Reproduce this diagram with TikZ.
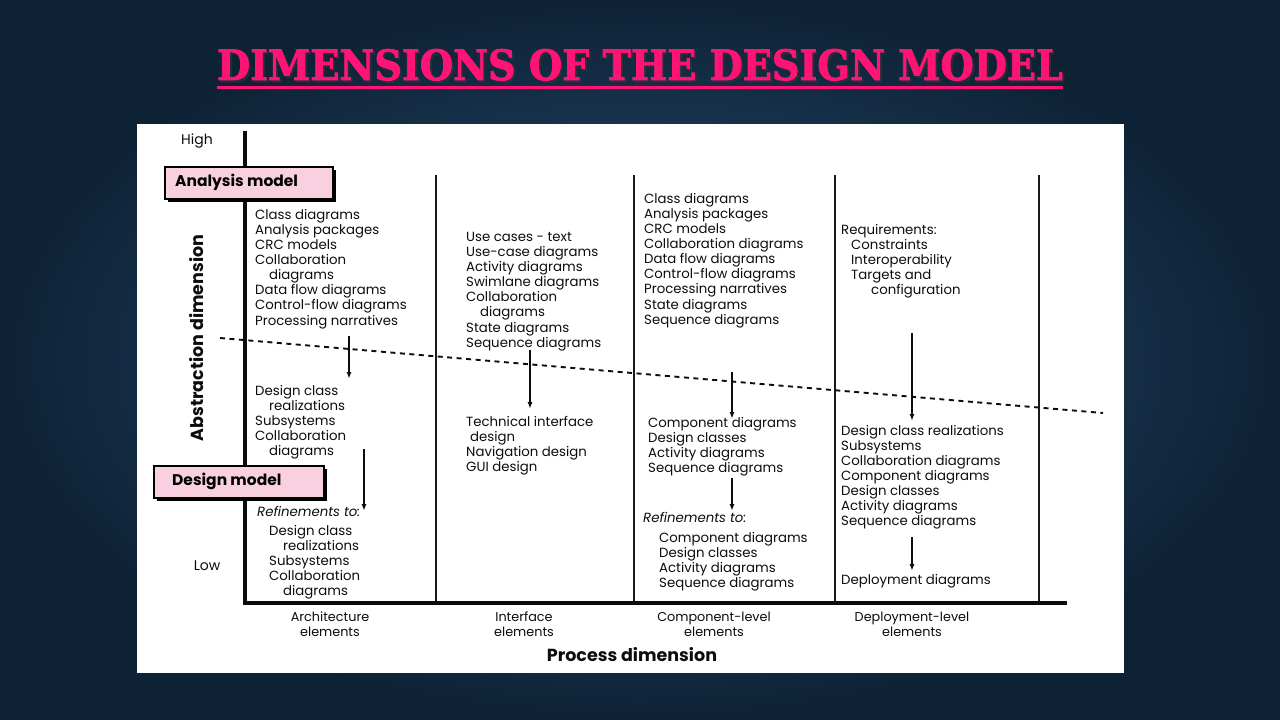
\documentclass[tikz,border=0pt]{standalone}
\usepackage{fontspec}
\setmainfont{Poppins}
\newfontfamily\titlefont{DejaVu Serif}[FakeBold=2]
\usetikzlibrary{arrows.meta}
\definecolor{bgin}{RGB}{40,84,120}
\definecolor{bgout}{RGB}{14,34,54}
\definecolor{titlepink}{RGB}{255,20,118}
\definecolor{boxpink}{RGB}{248,208,224}
\tikzset{
  txt/.style={anchor=north west,inner sep=0pt,align=left,font=\fontsize{13.3}{15.1}\selectfont,text=black!95},
  lbl/.style={inner sep=0pt,align=center,font=\fontsize{12.8}{15}\selectfont,text=black!95},
  colline/.style={line width=2pt,black!90},
  axisline/.style={line width=3.2pt,black!95},
  arr/.style={line width=1.4pt,black!95,-{Latex[length=7pt,width=5pt]}},
  modelbox/.style={draw=black,line width=1.5pt,fill=boxpink,minimum height=32pt,anchor=north west,inner sep=0pt},
  modeltxt/.style={anchor=west,inner sep=0pt,font=\bfseries\fontsize{15.5}{16}\selectfont},
}
\newcommand{\ind}{\hspace*{14pt}}
\begin{document}
\begin{tikzpicture}[x=1pt,y=-1pt]
\useasboundingbox (0,0) rectangle (1280,720);
\shade[inner color=bgin,outer color=bgout] (0,0) rectangle (1280,720);
% title
\node[inner sep=0pt,anchor=base,text=black!80,opacity=0.6] (titleshadow) at (642,82) {\resizebox{846pt}{31pt}{\titlefont\bfseries DIMENSIONS OF THE DESIGN MODEL}};
\node[inner sep=0pt,anchor=base,text=titlepink] (title) at (640,80) {\resizebox{846pt}{31pt}{\titlefont\bfseries DIMENSIONS OF THE DESIGN MODEL}};
\draw[titlepink,line width=3pt] (217,87) -- (1063,87);
% panel
\fill[white] (137,124) rectangle (1124,673);
% column lines
\foreach \cx/\nm in {436/c1,634/c2,835/c3,1039/c4}{
  \coordinate (\nm top) at (\cx,175);
  \coordinate (\nm bot) at (\cx,603);
  \draw[colline] (\nm top) -- (\nm bot);
}
% dashed line
\coordinate (dashA) at (220,338);
\coordinate (dashB) at (1103,413);
\draw[line width=1.9pt,black!95,dash pattern=on 5pt off 4.5pt] (dashA) -- (dashB);
% axes
\coordinate (axtop) at (245,131);
\coordinate (axorig) at (245,603);
\coordinate (axright) at (1067,603);
\draw[axisline] (axtop) -- (axorig) -- (axright);
% model boxes
\fill[black] (168,170) rectangle (336,202);
\node[modelbox,minimum width=168pt] (analysis) at (164,166) {};
\node[modeltxt] (analysistxt) at (175,182) {Analysis model};
\fill[black] (157,469) rectangle (327,501);
\node[modelbox,minimum width=170pt] (design) at (153,465) {};
\node[modeltxt] (designtxt) at (172,481) {Design model};
% axis labels
\node[lbl,font=\fontsize{14}{15}\selectfont] (high) at (197,141) {High};
\node[lbl,font=\fontsize{14}{15}\selectfont] (low) at (207,566) {Low};
\node[lbl,rotate=90,font=\bfseries\fontsize{17.5}{18}\selectfont] (abs) at (197,338) {Abstraction dimension};
\node[lbl] (archl) at (330,624) {Architecture\\elements};
\node[lbl] (intl) at (524,624) {Interface\\elements};
\node[lbl] (compl) at (714,624) {Component-level\\elements};
\node[lbl] (depl) at (912,624) {Deployment-level\\elements};
\node[lbl,font=\bfseries\fontsize{17.5}{18}\selectfont] (procl) at (632,655) {Process dimension};
% column 1
\node[txt] (a1) at (255,209) {Class diagrams\\Analysis packages\\CRC models\\Collaboration\\\ind diagrams\\Data flow diagrams\\Control-flow diagrams\\Processing narratives};
\node[txt] (a2) at (255,385) {Design class\\\ind realizations\\Subsystems\\Collaboration\\\ind diagrams};
\node[txt] (a3) at (257,506) {\itshape Refinements to:};
\node[txt] (a4) at (269,525) {Design class\\\ind realizations\\Subsystems\\Collaboration\\\ind diagrams};
% column 2
\node[txt] (b1) at (466,232) {Use cases - text\\Use-case diagrams\\Activity diagrams\\Swimlane diagrams\\Collaboration\\\ind diagrams\\State diagrams\\Sequence diagrams};
\node[txt] (b2) at (466,416) {Technical interface\\\hspace*{4pt}design\\Navigation design\\GUI design};
% column 3
\node[txt] (c1t) at (644,193) {Class diagrams\\Analysis packages\\CRC models\\Collaboration diagrams\\Data flow diagrams\\Control-flow diagrams\\Processing narratives\\State diagrams\\Sequence diagrams};
\node[txt] (c2t) at (648,417) {Component diagrams\\Design classes\\Activity diagrams\\Sequence diagrams};
\node[txt] (c3t) at (643,512) {\itshape Refinements to:};
\node[txt] (c4t) at (659,532) {Component diagrams\\Design classes\\Activity diagrams\\Sequence diagrams};
% column 4
\node[txt] (d1) at (841,224) {Requirements:\\\hspace*{10pt}Constraints\\\hspace*{10pt}Interoperability\\\hspace*{10pt}Targets and\\\hspace*{30pt}configuration};
\node[txt] (d2) at (841,425) {Design class realizations\\Subsystems\\Collaboration diagrams\\Component diagrams\\Design classes\\Activity diagrams\\Sequence diagrams};
\node[txt] (d3) at (841,574) {Deployment diagrams};
% arrows
\coordinate (p1s) at (349,336); \coordinate (p1e) at (349,379);
\coordinate (p2s) at (364,449); \coordinate (p2e) at (364,511);
\coordinate (p3s) at (530,350); \coordinate (p3e) at (530,409);
\coordinate (p4s) at (732,372); \coordinate (p4e) at (732,419);
\coordinate (p5s) at (732,478); \coordinate (p5e) at (732,511);
\coordinate (p6s) at (912,333); \coordinate (p6e) at (912,421);
\coordinate (p7s) at (912,537); \coordinate (p7e) at (912,571);
\foreach \i in {1,...,7}{\draw[arr] (p\i s) -- (p\i e);}
\end{tikzpicture}
\end{document}
